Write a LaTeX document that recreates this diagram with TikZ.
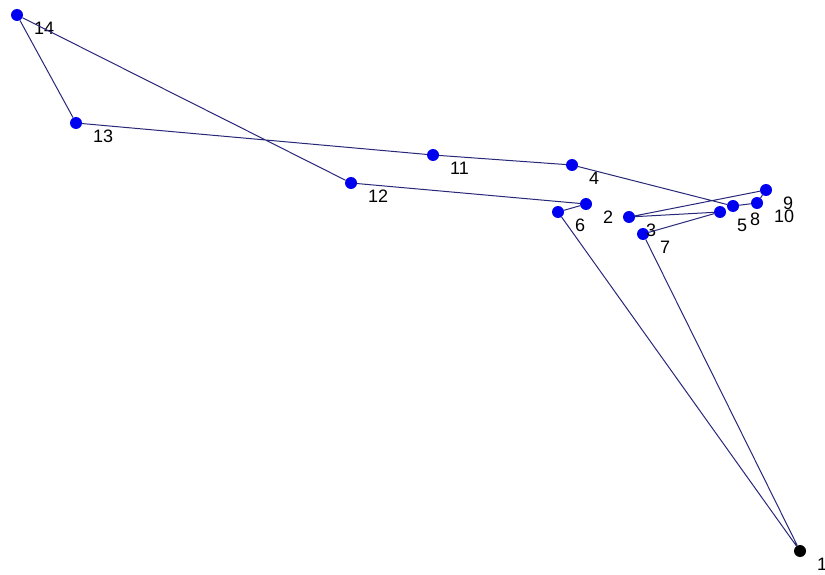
\documentclass[tikz,border=0pt]{standalone}
\usepackage{fontspec}
\setmainfont{Liberation Sans}
\definecolor{ptblue}{RGB}{0,0,240}
\definecolor{linecol}{RGB}{40,40,120}
\begin{document}
\begin{tikzpicture}[x=1pt,y=-1pt,
  pt/.style={circle,fill=ptblue,inner sep=0pt,minimum size=12pt},
  dep/.style={circle,fill=black,inner sep=0pt,minimum size=12pt},
  lab/.style={anchor=west,inner sep=0pt,font=\fontsize{18}{18}\selectfont},
  edge/.style={draw=linecol,line width=1pt}]
\useasboundingbox (0,0) rectangle (825,575);
\fill[white] (0,0) rectangle (825,575);
% points
\node[dep] (p1) at (800,551) {};
\foreach \n/\x/\y in {2/586/204,3/629/217,4/572/165,5/720/212,6/558/212,7/643/234,8/733/206,9/766/190,10/757/203,11/433/155,12/351/183,13/76/123,14/17/15}
  \node[pt] (p\n) at (\x,\y) {};
% labels
\foreach \n/\x/\y in {1/800/551,2/586/204,3/629/217,4/572/165,5/720/212,6/558/212,7/643/234,8/733/206,9/766/190,10/757/203,11/433/155,12/351/183,13/76/123,14/17/15}
  \node[lab] (t\n) at (\x+17,\y+13) {\n};
% tour
\draw[edge] (p1) -- (p6) -- (p2) -- (p12) -- (p14) -- (p13) -- (p11) -- (p4) -- (p8) -- (p10) -- (p9) -- (p3) -- (p5) -- (p7) -- (p1);
\end{tikzpicture}
\end{document}
